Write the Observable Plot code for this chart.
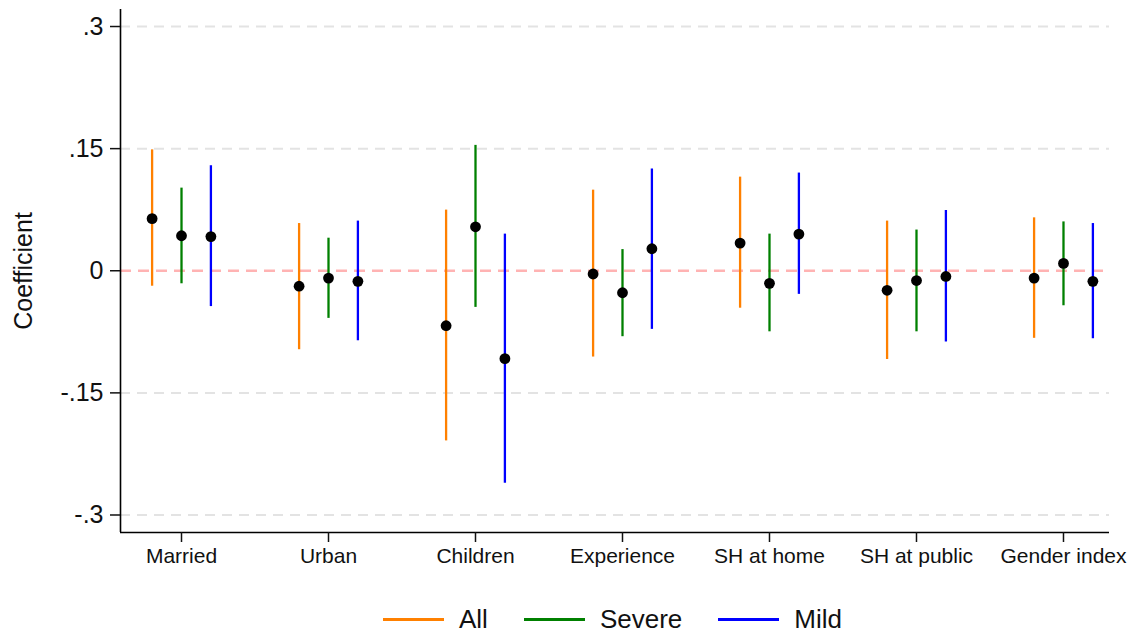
<!DOCTYPE html>
<html>
<head>
<meta charset="utf-8">
<script src="https://cdn.jsdelivr.net/npm/d3@7"></script>
<script src="https://cdn.jsdelivr.net/npm/@observablehq/plot@0.6"></script>
<style>
  html, body { margin: 0; padding: 0; background: #fff; }
  body { width: 1133px; height: 635px; overflow: hidden; font-family: "Liberation Sans", Arial, Helvetica, sans-serif; }
  #legend { display: flex; align-items: center; height: 55px; padding-top: 23px; padding-left: 383px; box-sizing: border-box; font-size: 26px; color: #111; }
  #legend .item { display: flex; align-items: center; margin-right: 36px; }
  #legend .swatch { width: 61px; height: 3px; margin-right: 15px; }
</style>
</head>
<body>
<div id="chart"></div>
<div id="legend"></div>
<script>
// Regression coefficients with confidence intervals, by characteristic and sample
const categories = ["Married", "Urban", "Children", "Experience", "SH at home", "SH at public", "Gender index"];
const seriesNames = ["All", "Severe", "Mild"];
const seriesColors = ["#ff8000", "#008000", "#0000ff"];

const allCoef = [0.064, -0.019, -0.0675, -0.004, 0.034, -0.024, -0.009];
const allLow  = [-0.019, -0.097, -0.209, -0.106, -0.046, -0.109, -0.083];
const allHigh = [0.1485, 0.058, 0.0745, 0.099, 0.115, 0.061, 0.065];

const severeCoef = [0.043, -0.009, 0.054, -0.027, -0.0155, -0.012, 0.009];
const severeLow  = [-0.016, -0.0585, -0.045, -0.081, -0.075, -0.075, -0.043];
const severeHigh = [0.1015, 0.040, 0.154, 0.026, 0.045, 0.050, 0.060];

const mildCoef = [0.042, -0.013, -0.108, 0.027, 0.045, -0.007, -0.013];
const mildLow  = [-0.044, -0.086, -0.261, -0.072, -0.029, -0.0875, -0.0835];
const mildHigh = [0.129, 0.061, 0.045, 0.125, 0.120, 0.074, 0.058];

const yTicks = [-0.3, -0.15, 0, 0.15, 0.3];
const yTickLabels = ["-.3", "-.15", "0", ".15", ".3"];

// Long-format table; each series is shifted sideways within its category slot
const dodge = [-0.2, 0, 0.2];
const coefs = [allCoef, severeCoef, mildCoef];
const lows = [allLow, severeLow, mildLow];
const highs = [allHigh, severeHigh, mildHigh];
const rows = [];
seriesNames.forEach((s, k) => {
  categories.forEach((c, i) => {
    rows.push({series: s, category: c, pos: i + dodge[k], coef: coefs[k][i], lo: lows[k][i], hi: highs[k][i]});
  });
});

const xDomain = [-0.415, 6.313];
const yDomain = [-0.3215, 0.3209];
const font = "'Liberation Sans', Arial, Helvetica, sans-serif";

const chart = Plot.plot({
  width: 1133,
  height: 580,
  marginLeft: 120,
  marginRight: 24,
  marginTop: 9,
  marginBottom: 48,
  style: {fontFamily: font, color: "#111", background: "#fff"},
  x: {type: "linear", domain: xDomain},
  y: {domain: yDomain},
  color: {domain: seriesNames, range: seriesColors},
  marks: [
    // light dashed gridlines
    Plot.ruleY(yTicks.filter(d => d !== 0), {stroke: "#e3e3e3", strokeWidth: 2, strokeDasharray: "10,7"}),
    // reference line at zero
    Plot.ruleY([0], {stroke: "#ffb3b3", strokeWidth: 2.5, strokeDasharray: "11,7"}),
    // confidence intervals
    Plot.ruleX(rows, {x: "pos", y1: "lo", y2: "hi", stroke: "series", strokeWidth: 2.3}),
    // point estimates
    Plot.dot(rows, {x: "pos", y: "coef", fill: "#000", r: 5.4}),
    // axis lines
    Plot.ruleX([xDomain[0]], {stroke: "#000", strokeWidth: 1.6}),
    Plot.ruleY([yDomain[0]], {stroke: "#000", strokeWidth: 1.6}),
    Plot.axisY(yTicks, {
      tickFormat: d => yTickLabels[yTicks.indexOf(d)],
      tickSize: 10, tickPadding: 7, fontSize: 25, strokeWidth: 1.5, label: null
    }),
    Plot.axisX(d3.range(categories.length), {
      tickFormat: i => categories[i],
      tickSize: 10, tickPadding: 6, fontSize: 21, strokeWidth: 1.5, label: null
    }),
    Plot.text(["Coefficient"], {
      frameAnchor: "left", textAnchor: "middle", dx: -97, rotate: -90, fontSize: 25, fill: "#111"
    })
  ]
});
document.getElementById("chart").appendChild(chart);

// Legend below the chart
const legend = d3.select("#legend");
seriesNames.forEach((s, k) => {
  const item = legend.append("div").attr("class", "item");
  item.append("div").attr("class", "swatch").style("background", seriesColors[k]);
  item.append("span").text(s);
});
</script>
</body>
</html>
